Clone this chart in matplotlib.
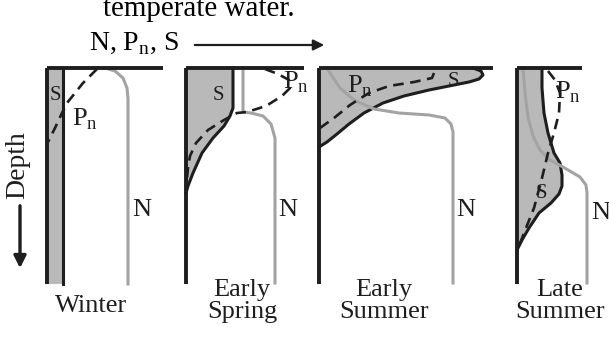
import matplotlib.pyplot as plt

plt.rcParams['font.family'] = ['Liberation Serif', 'DejaVu Serif']

# profiles per season: (concentration offset, depth) in panel units
seasons = ["Winter", "Early\nSpring", "Early\nSummer", "Late\nSummer"]

s_winter = [(16, 0), (16, 216)]
n_winter = [(58, 0), (68, 3), (76, 10), (80, 20), (81, 30), (81, 216)]
p_winter = [(50, 1), (36, 15), (20, 35), (15, 45), (8, 60), (1, 74)]

s_spring = [(47, 0), (47, 40), (44, 48), (38, 58), (27, 70), (16, 85),
            (7, 105), (2, 118), (0, 125)]
n_spring = [(57, 0), (57, 44), (65, 45), (77, 48), (85, 56), (89, 70), (89, 215)]
p_spring = [(79, 1), (92, 6), (103, 12), (104, 20), (96, 28), (80, 38), (61, 44),
            (51, 45), (38, 52), (22, 62), (10, 75), (4, 88), (2, 100), (1, 110)]

s_esummer = [(154, 0), (162, 3), (164, 7), (160, 11), (150, 14), (130, 18),
             (110, 22), (85, 28), (64, 35), (45, 45), (30, 56), (18, 66),
             (8, 74), (0, 79)]
n_esummer = [(8, 0), (13, 8), (21, 20), (35, 32), (55, 41), (80, 45), (110, 47),
             (126, 50), (132, 56), (134, 64), (134, 215)]
p_esummer = [(1, 60), (15, 50), (31, 37), (50, 25), (70, 18), (95, 14),
             (113, 10), (115, 5)]

s_lsummer = [(25, 0), (25, 20), (27, 45), (31, 65), (37, 85), (43, 95), (45, 107),
             (45, 118), (42, 126), (34, 135), (22, 145), (12, 160), (5, 172),
             (0, 182)]
n_lsummer = [(6, 0), (8, 25), (11, 49), (16, 68), (23, 82), (33, 92), (46, 99),
             (63, 109), (69, 117), (70, 125), (70, 215)]
p_lsummer = [(31, 3), (38, 12), (43, 25), (42, 45), (37, 65), (31, 85), (25, 110),
             (17, 140), (9, 160), (2, 178)]

s_list = [s_winter, s_spring, s_esummer, s_lsummer]
n_list = [n_winter, n_spring, n_esummer, n_lsummer]
p_list = [p_winter, p_spring, p_esummer, p_lsummer]

# layout (pixels)
x0s = [47, 186, 319, 517]
widths = [116, 118, 174, 65]
top, bottom = 68, 284
s_pos = [(55, 96), (218, 96), (453, 82), (541, 194)]
p_pos = [(85, 119), (296, 82), (360, 86), (568, 92)]
n_pos = [(142, 210), (288, 210), (466, 210), (601, 213)]
lab_pos = [(91, 306), (242, 301), (384, 301), (560, 301)]

dark = "#1e1e1e"
gray_fill = "#b9b9b9"
gray_line = "#a3a3a3"

fig = plt.figure(figsize=(6.09, 3.39), dpi=100)
ax = fig.add_axes([0, 0, 1, 1])
ax.set_xlim(0, 609)
ax.set_ylim(339, 0)
ax.axis("off")

for i in range(4):
    x0 = x0s[i]
    sx = [x0 + c for c, d in s_list[i]]
    sy = [top + d for c, d in s_list[i]]
    if i == 0:
        ax.fill_betweenx([top, bottom], x0, x0 + 16, color=gray_fill, lw=0)
        ax.plot([x0 + 16, x0 + 16], [top, bottom], color=dark, lw=2.2)
    else:
        ax.fill(sx + [x0, x0], sy + [sy[-1], top], color=gray_fill, lw=0)
        ax.plot(sx, sy, color=dark, lw=2.2)
    ax.plot([x0 + c for c, d in n_list[i]], [top + d for c, d in n_list[i]],
            color=gray_line, lw=2.2)
    ax.plot([x0 + c for c, d in p_list[i]], [top + d for c, d in p_list[i]],
            color=dark, lw=1.9, ls=(0, (4, 2.5)))
    # axes of the panel
    ax.plot([x0, x0], [top, bottom], color=dark, lw=2.8, solid_capstyle="butt")
    ax.plot([x0, x0 + widths[i]], [top, top], color=dark, lw=2.8,
            solid_capstyle="butt")
    ax.text(*s_pos[i], "S", fontsize=15, ha="center", va="center", color=dark)
    ax.text(*p_pos[i], "P$_\\mathregular{n}$", fontsize=19, ha="center",
            va="center", color=dark)
    ax.text(*n_pos[i], "N", fontsize=19, ha="center", va="center", color=dark)
    ax.text(*lab_pos[i], seasons[i], fontsize=19, ha="center", va="center",
            color=dark, linespacing=0.95)

ax.text(199, 9, "temperate water.", fontsize=21, ha="center", va="center",
        color="black")
ax.text(134, 44, "N, P$_\\mathregular{n}$, S", fontsize=20, ha="center",
        va="center", color="black")
ax.annotate("", xy=(327, 45), xytext=(192, 45),
            arrowprops=dict(arrowstyle="-|>", color=dark, lw=1.6,
                            mutation_scale=16))
ax.text(18, 165, "Depth", fontsize=20, rotation=90, ha="center", va="center",
        color=dark)
ax.annotate("", xy=(20, 271), xytext=(20, 203),
            arrowprops=dict(arrowstyle="-|>", color=dark, lw=2.4,
                            mutation_scale=18))

fig.savefig("out.png", dpi=100)
